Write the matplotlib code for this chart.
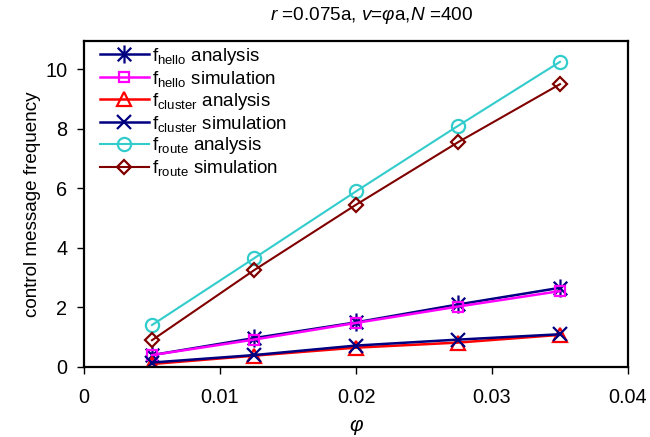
import matplotlib
matplotlib.use("Agg")
import matplotlib.pyplot as plt
from matplotlib.path import Path

plt.rcParams['font.family'] = ['Liberation Sans', 'DejaVu Sans']
plt.rcParams['mathtext.fontset'] = 'custom'
plt.rcParams['mathtext.rm'] = 'Liberation Sans'
plt.rcParams['mathtext.it'] = 'Liberation Sans:italic'

# speed factor phi
phi = [0.005, 0.0125, 0.02, 0.0275, 0.035]

hello_analysis = [0.40, 0.97, 1.50, 2.10, 2.66]
hello_simulation = [0.40, 0.92, 1.48, 2.03, 2.55]
cluster_analysis = [0.10, 0.38, 0.65, 0.82, 1.08]
cluster_simulation = [0.15, 0.40, 0.72, 0.92, 1.10]
route_analysis = [1.41, 3.65, 5.90, 8.10, 10.25]
route_simulation = [0.90, 3.25, 5.45, 7.55, 9.50]

x_ticks = [0, 0.01, 0.02, 0.03, 0.04]
x_tick_labels = ["0", "0.01", "0.02", "0.03", "0.04"]
y_ticks = [0, 2, 4, 6, 8, 10]

# asterisk marker: vertical bar plus a diagonal cross
asterisk = Path(
    [(0, -1), (0, 1), (-0.75, -0.75), (0.75, 0.75), (-0.75, 0.75), (0.75, -0.75)],
    [Path.MOVETO, Path.LINETO, Path.MOVETO, Path.LINETO, Path.MOVETO, Path.LINETO],
)

W, H = 650, 437
fig = plt.figure(figsize=(W / 100, H / 100), dpi=100)
ax = fig.add_axes([84 / W, 1 - 367 / H, (628 - 84) / W, (367 - 41) / H])

navy = '#000080'
series = [
    (hello_analysis, navy, asterisk, 13, 1.8, r'f$_{\mathrm{hello}}$ analysis'),
    (hello_simulation, '#FF00FF', 's', 7.5, 1.8, r'f$_{\mathrm{hello}}$ simulation'),
    (cluster_analysis, '#FF0000', '^', 9.5, 1.8, r'f$_{\mathrm{cluster}}$ analysis'),
    (cluster_simulation, navy, 'x', 10, 1.8, r'f$_{\mathrm{cluster}}$ simulation'),
    (route_analysis, '#33CCCC', 'o', 9.5, 1.5, r'f$_{\mathrm{route}}$ analysis'),
    (route_simulation, '#800000', 'D', 7, 1.5, r'f$_{\mathrm{route}}$ simulation'),
]

for vals, color, marker, ms, lw, label in series:
    ax.plot(phi, vals, color=color, lw=lw, marker=marker, markersize=ms,
            markerfacecolor='none', markeredgecolor=color, markeredgewidth=1.6,
            label=label)

ax.set_xlim(0, 0.04)
ax.set_ylim(0, 10.95)
ax.set_xticks(x_ticks)
ax.set_xticklabels(x_tick_labels)
ax.set_yticks(y_ticks)
ax.tick_params(axis='both', direction='out', length=5, width=1, labelsize=14.3)
ax.tick_params(axis='x', pad=10)
ax.tick_params(axis='y', pad=7)
for sp in ax.spines.values():
    sp.set_linewidth(1.6)
    sp.set_color('black')

ax.set_ylabel('control message frequency', fontsize=13.6, labelpad=3)
ax.set_xlabel(r'$\varphi$', fontsize=15, labelpad=7)

fs = 13.5
leg = ax.legend(loc='upper left', frameon=False, fontsize=fs, handlelength=2.6,
                handletextpad=0.2, labelspacing=0.1, borderpad=0.0,
                borderaxespad=0.0,
                bbox_to_anchor=((100 - 84) / 544, (367 - 46) / 326))

fig.text(372 / W, 1 - 16 / H, r'$r$ =0.075a, $v$=$\varphi$a,$N$ =400',
         ha='center', va='center', fontsize=13.7)

fig.savefig('out.png', dpi=100)
